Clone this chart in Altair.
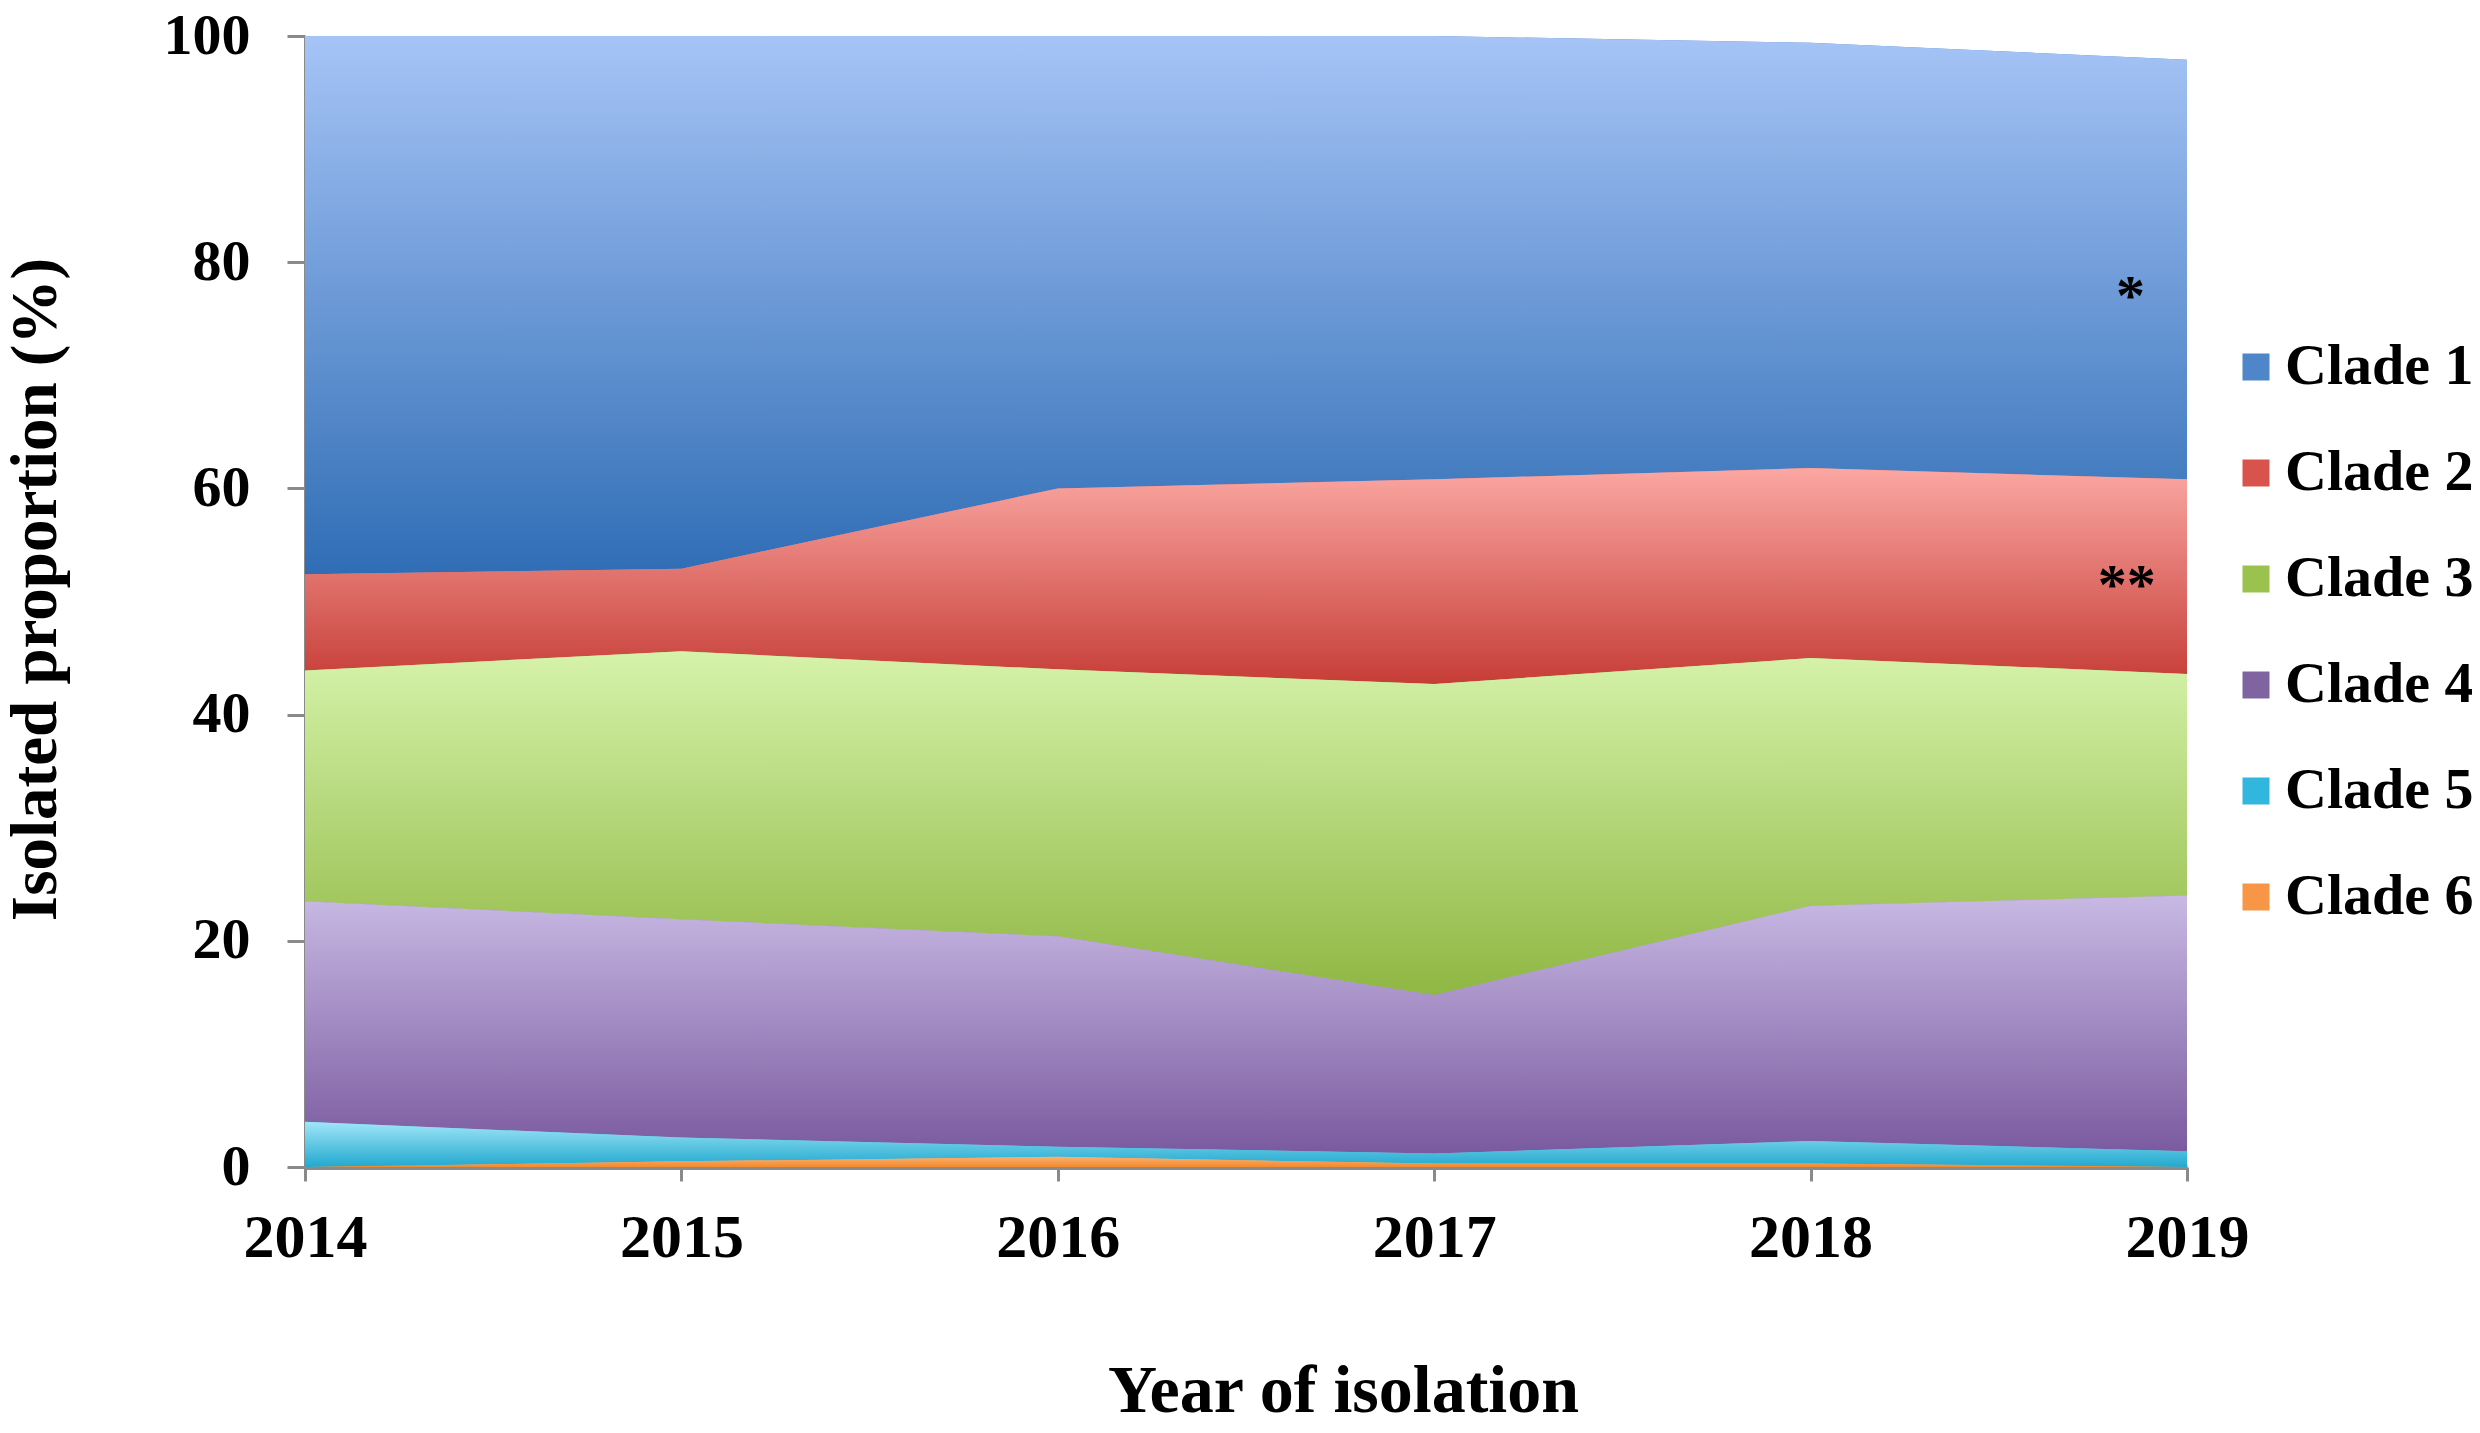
import altair as alt
import pandas as pd

years = [2014, 2015, 2016, 2017, 2018, 2019]
clades = ["Clade 1", "Clade 2", "Clade 3", "Clade 4", "Clade 5", "Clade 6"]
clade1 = [47.6, 47.1, 40.0, 39.2, 37.6, 37.1]
clade2 = [8.5, 7.3, 16.0, 18.1, 16.8, 17.2]
clade3 = [20.4, 23.7, 23.6, 27.5, 21.9, 19.6]
clade4 = [19.5, 19.3, 18.6, 14.0, 20.8, 22.6]
clade5 = [4.0, 2.1, 0.9, 0.9, 2.0, 1.4]
clade6 = [0.0, 0.5, 0.9, 0.3, 0.3, 0.0]

top_colors = ["#a6c4f6", "#fba7a2", "#d6f3aa", "#c8b9e4", "#a0e6f8", "#fbb071"]
bottom_colors = ["#2f6db5", "#c63d37", "#8fb743", "#7a5a9f", "#22a9cf", "#f38a2c"]
mid_colors = ["#4f86c9", "#d9534d", "#9bc24e", "#8064a2", "#31b6dd", "#f79646"]

note_x = [2018.85, 2018.84]
note_y = [76.8, 51.3]
note_text = ["*", "**"]

series = [clade1, clade2, clade3, clade4, clade5, clade6]
rows = []
for ci, (c, vals) in enumerate(zip(clades, series)):
    for yi, yr in enumerate(years):
        rows.append({"year": yr, "clade": c, "value": vals[yi], "rank": ci})
df = pd.DataFrame(rows)

FONT = "Liberation Serif"

base = alt.Chart(df).transform_stack(
    stack="value",
    groupby=["year"],
    sort=[alt.SortField("rank", order="descending")],
    as_=["y0", "y1"],
)

x_enc = alt.X(
    "year:Q",
    scale=alt.Scale(domain=[2014, 2019], nice=False, zero=False),
    axis=alt.Axis(
        values=years, format="d", title="Year of isolation", grid=False,
        labelFlush=False, tickSize=14, tickWidth=3, tickColor="#8a8a8a",
        domainColor="#8a8a8a", domainWidth=5,
        labelFontSize=62,
        labelBaseline="alphabetic", labelPadding=75,
        titleFontSize=68,
        titleX=1038, titleY=244, titleBaseline="alphabetic", titleAnchor="start",
        titleAlign="center",
    ),
)
y_enc = alt.Y(
    "y1:Q",
    scale=alt.Scale(domain=[0, 100], nice=False),
    axis=alt.Axis(
        values=[0, 20, 40, 60, 80, 100], title="Isolated proportion (%)", grid=False,
        tickSize=18, tickWidth=3, tickColor="#8a8a8a", domainColor="#8a8a8a",
        domainWidth=3, labelPadding=37, labelFontSize=58,
        titleFontSize=65, titleX=-236, titleY=553,
    ),
)
y2_enc = alt.Y2("y0:Q")

legend_layer = base.mark_area().encode(
    x=x_enc, y=y_enc, y2=y2_enc,
    color=alt.Color(
        "clade:N",
        scale=alt.Scale(domain=clades, range=mid_colors),
        sort=clades,
        legend=alt.Legend(
            title=None, orient="none", legendX=1922, legendY=302,
            symbolType="square", symbolSize=729, symbolStrokeWidth=0,
            symbolOpacity=1, labelFont=FONT, labelFontSize=58,
            labelFontWeight="bold", labelColor="black", rowPadding=48,
            labelOffset=0, labelLimit=400,
        ),
    ),
)

layers = [legend_layer]
for ci, c in enumerate(clades):
    grad = alt.Gradient(
        gradient="linear",
        stops=[
            alt.GradientStop(offset=0, color=top_colors[ci]),
            alt.GradientStop(offset=1, color=bottom_colors[ci]),
        ],
        x1=0, x2=0, y1=0, y2=1,
    )
    layers.append(
        base.transform_filter(alt.datum.clade == c)
        .mark_area(color=grad)
        .encode(x=x_enc, y=y_enc, y2=y2_enc)
    )

notes = pd.DataFrame({"x": note_x, "y": note_y, "t": note_text})
note_layer = alt.Chart(notes).mark_text(
    font=FONT, fontSize=58, fontWeight="bold", color="black", baseline="middle"
).encode(x=alt.X("x:Q"), y=alt.Y("y:Q"), text="t:N")
layers.append(note_layer)

chart = alt.layer(*layers).properties(
    width=1882, height=1131,
    autosize=alt.AutoSizeParams(type="none"),
    padding={"left": 297, "top": 28, "right": 285, "bottom": 258},
    background="white",
).configure_view(stroke=None).configure_axis(
    labelFont=FONT, labelFontWeight="bold", labelColor="black",
    titleFont=FONT, titleFontWeight="bold", titleColor="black",
)

chart.save("out.html", embed_options={"renderer": "svg", "actions": False})
